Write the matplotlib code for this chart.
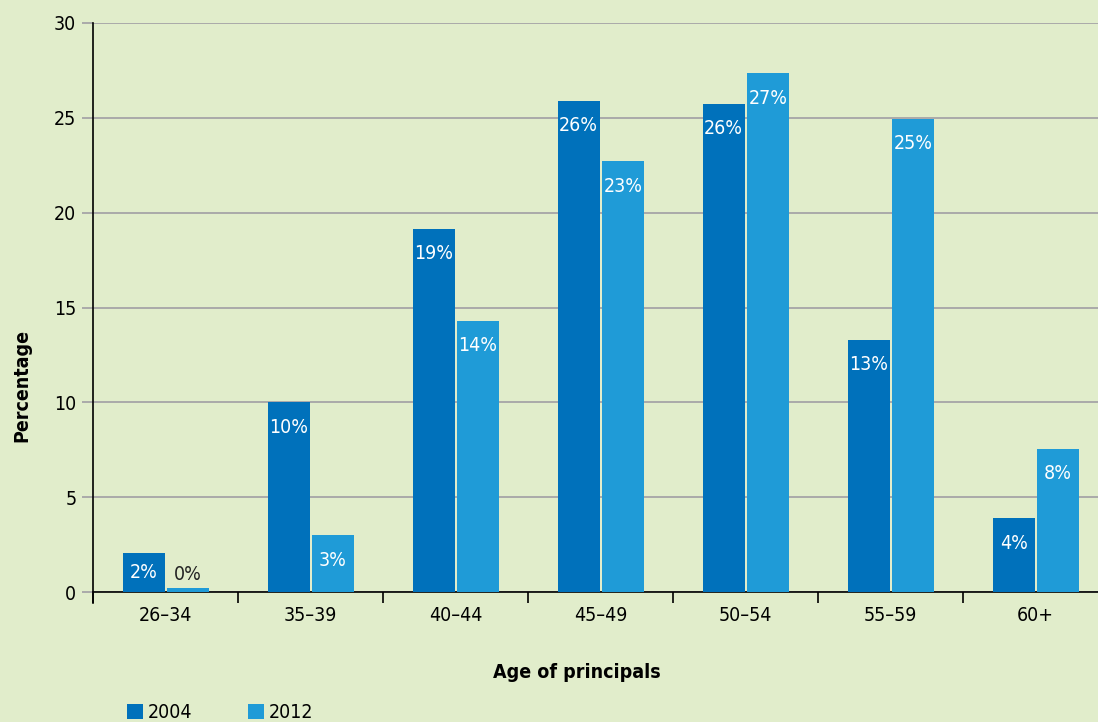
import numpy as np
import matplotlib
matplotlib.use("Agg")
import matplotlib.pyplot as plt
from matplotlib.ticker import FixedLocator

plt.rcParams['font.family'] = ['DejaVu Sans']
plt.rcParams['font.stretch'] = 'condensed'

ages = ['26–34', '35–39', '40–44', '45–49', '50–54', '55–59', '60+']
pct_2004 = [2.05, 10.0, 19.15, 25.9, 25.75, 13.3, 3.9]
pct_2012 = [0.2, 3.0, 14.3, 22.7, 27.35, 24.95, 7.55]
lab_2004 = ['2%', '10%', '19%', '26%', '26%', '13%', '4%']
lab_2012 = ['0%', '3%', '14%', '23%', '27%', '25%', '8%']

bg = '#e1edcb'
c2004 = '#0071bb'
c2012 = '#1f9bd7'

fig = plt.figure(figsize=(10.98, 7.22), dpi=100, facecolor=bg)
ax = fig.add_axes([93/1098, 130/722, 1005/1098, 569/722], facecolor=bg)

x = np.arange(len(ages))
w = 0.29
b1 = ax.bar(x - 0.15, pct_2004, w, color=c2004, label='2004', zorder=3)
b2 = ax.bar(x + 0.155, pct_2012, w, color=c2012, label='2012', zorder=3)

ax.set_xlim(-0.5, -0.5 + 1005/145)
ax.set_ylim(0, 30)
ax.set_yticks(range(0, 31, 5))
ax.grid(axis='y', color='#aaaaaa', lw=1.4, zorder=0)
ax.set_axisbelow(True)

ax.set_xticks(x)
ax.set_xticklabels(ages, fontsize=14)
ax.xaxis.set_minor_locator(FixedLocator(np.arange(-0.5, 7, 1)))
ax.tick_params(axis='x', which='major', length=0, pad=10)
ax.tick_params(axis='x', which='minor', length=8, width=1.2, color='black')
ax.tick_params(axis='y', length=8, width=1.4, color='#aaaaaa', labelsize=14, pad=4)

for s in ['top', 'right']:
    ax.spines[s].set_visible(False)
ax.spines['left'].set_linewidth(1.2)
ax.spines['bottom'].set_linewidth(1.2)
ax.spines['left'].set_bounds(-0.6, 30)

px_per_unit = 569 / 30
for bars, labs in [(b1, lab_2004), (b2, lab_2012)]:
    for bar, lab in zip(bars, labs):
        h = bar.get_height()
        xc = bar.get_x() + bar.get_width() / 2
        if h < 1:
            ax.annotate(lab, (xc, h), xytext=(0, 10), textcoords='offset points',
                        ha='center', va='center', fontsize=14, color='#222222')
        else:
            off = min(25, h * px_per_unit / 2) * 0.72
            ax.annotate(lab, (xc, h), xytext=(0, -off), textcoords='offset points',
                        ha='center', va='center', fontsize=14, color='white', zorder=4)

fig.text(577/1098, 1 - 672/722, 'Age of principals', ha='center', va='center',
         fontsize=14, fontweight='bold')
fig.text(22/1098, 1 - 386/722, 'Percentage', ha='center', va='center',
         rotation=90, fontsize=14, fontweight='bold')

fig.legend(handles=[b1, b2], labels=['2004', '2012'], loc='center left',
           bbox_to_anchor=(127/1098, 1 - 713/722), ncol=2, frameon=False,
           fontsize=14, handlelength=0.8, handleheight=0.8, handletextpad=0.25,
           columnspacing=2.9, borderaxespad=0, borderpad=0)

fig.savefig('out.png', dpi=100, facecolor=bg)
